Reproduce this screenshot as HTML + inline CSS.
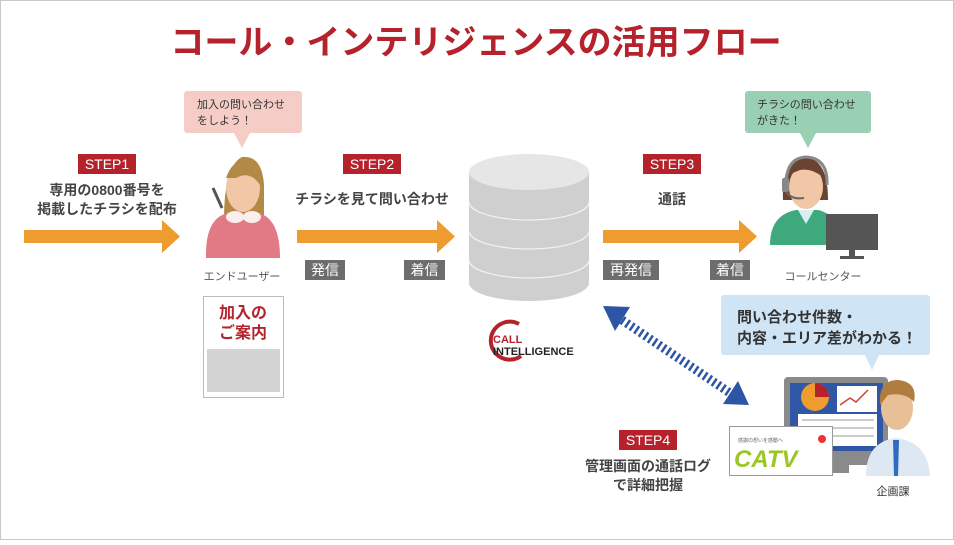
<!DOCTYPE html>
<html><head><meta charset="utf-8"><style>
html,body{margin:0;padding:0;}
body{width:954px;height:540px;overflow:hidden;background:#fff;}
svg text{font-family:"Liberation Sans","Noto Sans CJK JP",sans-serif;}
</style></head><body>
<svg width="954" height="540" viewBox="0 0 954 540" xmlns="http://www.w3.org/2000/svg">
<rect x="0.5" y="0.5" width="953" height="539" fill="#fff" stroke="#c8c8c8"/>
<text x="476" y="54" text-anchor="middle" font-size="34" font-weight="bold" fill="#b5222b">コール・インテリジェンスの活用フロー</text>

<g fill="#ee9b30">
<polygon points="24,230 162,230 162,220 180,236.5 162,253 162,243 24,243"/>
<polygon points="297,230 437,230 437,220 455,236.5 437,253 437,243 297,243"/>
<polygon points="603,230 739,230 739,220 757,236.5 739,253 739,243 603,243"/>
</g>

<g font-size="14" fill="#fff" text-anchor="middle">
<rect x="78" y="154" width="58" height="20" fill="#b5222b"/><text x="107" y="169">STEP1</text>
<rect x="343" y="154" width="58" height="20" fill="#b5222b"/><text x="372" y="169">STEP2</text>
<rect x="643" y="154" width="58" height="20" fill="#b5222b"/><text x="672" y="169">STEP3</text>
<rect x="619" y="430" width="58" height="20" fill="#b5222b"/><text x="648" y="445">STEP4</text>
</g>
<g font-size="14" font-weight="bold" fill="#444" text-anchor="middle">
<text x="107" y="195">専用の0800番号を</text>
<text x="107" y="214">掲載したチラシを配布</text>
<text x="372" y="204">チラシを見て問い合わせ</text>
<text x="672" y="204">通話</text>
<text x="648" y="471">管理画面の通話ログ</text>
<text x="648" y="490">で詳細把握</text>
</g>

<g font-size="14" fill="#fff" text-anchor="middle">
<rect x="305" y="260" width="40" height="20" fill="#6d6d6d"/><text x="325" y="275">発信</text>
<rect x="404" y="260" width="41" height="20" fill="#6d6d6d"/><text x="424.5" y="275">着信</text>
<rect x="603" y="260" width="56" height="20" fill="#6d6d6d"/><text x="631" y="275">再発信</text>
<rect x="710" y="260" width="40" height="20" fill="#6d6d6d"/><text x="730" y="275">着信</text>
</g>

<g>
<path d="M469,172 L469,283 A60,18 0 0 0 589,283 L589,172 Z" fill="#cfcfcf"/>
<ellipse cx="529" cy="172" rx="60" ry="18" fill="#e6e6e6"/>
<g fill="none" stroke="#f2f2f2" stroke-width="1.2">
<path d="M469,202 A60,18 0 0 0 589,202"/>
<path d="M469,231 A60,18 0 0 0 589,231"/>
<path d="M469,260 A60,18 0 0 0 589,260"/>
</g>
</g>
<path d="M519,324 A19,19 0 1 0 521,356" fill="none" stroke="#b5222b" stroke-width="4"/>
<text x="493" y="343" font-size="11" font-weight="bold" fill="#b5222b">CALL</text>
<text x="493" y="355" font-size="11" font-weight="bold" fill="#222">INTELLIGENCE</text>

<rect x="184" y="91" width="118" height="42" rx="3" fill="#f6cdc6"/>
<polygon points="234,133 250,133 242,148" fill="#f6cdc6"/>
<text x="197" y="108" font-size="11" fill="#333">加入の問い合わせ</text>
<text x="197" y="124" font-size="11" fill="#333">をしよう！</text>
<path d="M224,220 Q224,166 242,157 Q262,155 264,185 L264,222 Z" fill="#b38a45"/>
<ellipse cx="243" cy="188" rx="17" ry="24" fill="#f1c7a8"/>
<path d="M226,178 Q232,160 248,158 Q262,162 260,185 Q250,170 236,178 Z" fill="#b38a45"/>
<line x1="213" y1="188" x2="222" y2="208" stroke="#555" stroke-width="3"/>
<path d="M206,258 Q205,218 228,213 L258,213 Q280,218 280,258 Z" fill="#e27a85"/>
<ellipse cx="235" cy="217" rx="9" ry="6" fill="#fbeeee"/>
<ellipse cx="252" cy="217" rx="9" ry="6" fill="#fbeeee"/>
<text x="242" y="280" font-size="11" fill="#555" text-anchor="middle">エンドユーザー</text>
<rect x="203.5" y="296.5" width="80" height="101" fill="#fff" stroke="#bbb"/>
<text x="243" y="318" font-size="16" font-weight="bold" fill="#b5222b" text-anchor="middle">加入の</text>
<text x="243" y="338" font-size="16" font-weight="bold" fill="#b5222b" text-anchor="middle">ご案内</text>
<rect x="207" y="349" width="73" height="43" fill="#d3d3d3"/>

<rect x="745" y="91" width="126" height="42" rx="3" fill="#99d0b3"/>
<polygon points="800,133 816,133 808,148" fill="#99d0b3"/>
<text x="757" y="108" font-size="11" fill="#333">チラシの問い合わせ</text>
<text x="757" y="124" font-size="11" fill="#333">がきた！</text>
<path d="M783,200 Q781,160 806,157 Q828,160 828,200 Z" fill="#6b4431"/>
<ellipse cx="806" cy="187" rx="17" ry="22" fill="#f1c7a8"/>
<path d="M788,175 Q796,162 806,163 Q820,165 824,178 Q812,168 800,170 Z" fill="#6b4431"/>
<path d="M786,185 Q786,158 806,157 Q828,158 827,185" fill="none" stroke="#888" stroke-width="3"/>
<rect x="782" y="178" width="7" height="14" rx="2" fill="#888"/>
<path d="M786,192 Q792,200 804,198" fill="none" stroke="#666" stroke-width="2"/>
<path d="M770,245 Q770,215 796,210 L818,210 Q840,215 842,245 Z" fill="#3ea97c"/>
<polygon points="798,210 814,210 806,224" fill="#d8eef2"/>
<rect x="826" y="214" width="52" height="36" fill="#555"/>
<rect x="849" y="250" width="6" height="6" fill="#555"/>
<rect x="840" y="256" width="24" height="3" fill="#555"/>
<text x="823" y="280" font-size="11" fill="#555" text-anchor="middle">コールセンター</text>

<line x1="622" y1="320" x2="730" y2="393" stroke="#2d55a5" stroke-width="9" stroke-dasharray="2.5,3"/>
<polygon points="603,306 630,307 615,331" fill="#2d55a5"/>
<polygon points="749,405 723,404 738,381" fill="#2d55a5"/>

<rect x="721" y="295" width="209" height="60" rx="3" fill="#cfe4f5"/>
<polygon points="865,355 879,355 872,370" fill="#cfe4f5"/>
<text x="737" y="322" font-size="15" font-weight="bold" fill="#333">問い合わせ件数・</text>
<text x="737" y="343" font-size="15" font-weight="bold" fill="#333">内容・エリア差がわかる！</text>
<rect x="784" y="377" width="104" height="88" rx="4" fill="#8a8a8a"/>
<rect x="790" y="383" width="93" height="68" fill="#2f57a6"/>
<circle cx="815" cy="397" r="14" fill="#ee9b30"/>
<path d="M815,397 L815,383 A14,14 0 0 1 829,397 Z" fill="#b5222b"/>
<rect x="837" y="386" width="40" height="26" fill="#fff"/>
<polyline points="840,405 850,398 856,402 868,390" fill="none" stroke="#c43" stroke-width="1.5"/>
<rect x="798" y="414" width="79" height="32" fill="#fff"/>
<g stroke="#ccc" stroke-width="2"><line x1="802" y1="420" x2="874" y2="420"/><line x1="802" y1="428" x2="874" y2="428"/><line x1="802" y1="436" x2="874" y2="436"/></g>
<rect x="824" y="465" width="25" height="8" fill="#8a8a8a"/>
<path d="M866,476 Q866,442 896,438 Q928,442 930,476 Z" fill="#dde8f3"/>
<polygon points="893,440 899,440 898,476 894,476" fill="#2d6cc0"/>
<ellipse cx="897" cy="408" rx="16" ry="22" fill="#e8bf97"/>
<path d="M880,405 Q878,380 898,380 Q918,382 914,402 Q905,392 888,395 Z" fill="#b07c3f"/>
<rect x="729.5" y="426.5" width="103" height="49" fill="#fff" stroke="#999"/>
<text x="738" y="442" font-size="5" fill="#666">感謝の想いを感動へ</text>
<circle cx="822" cy="439" r="4" fill="#e33"/>
<text x="734" y="467" font-size="24" font-weight="bold" font-style="italic" fill="#9bc626">CATV</text>
<text x="893" y="495" font-size="11" fill="#333" text-anchor="middle">企画課</text>
</svg>
</body></html>
